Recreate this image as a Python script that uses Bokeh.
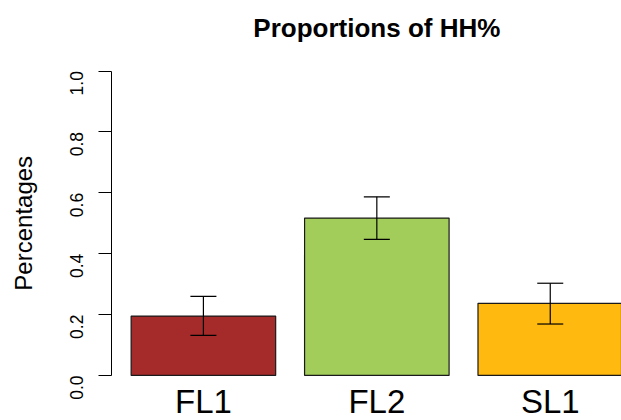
from bokeh.plotting import figure
from bokeh.models import (Range1d, FixedTicker, ColumnDataSource, Whisker,
                          TeeHead, LabelSet, Label)
from bokeh.core.properties import value
from bokeh.embed import file_html
from bokeh.resources import INLINE
import math

# data
categories = ["FL1", "FL2", "SL1"]
proportions = [0.195, 0.517, 0.237]
err_lower = [0.132, 0.447, 0.169]
err_upper = [0.260, 0.587, 0.303]
bar_colors = ["#A52A2A", "#A2CD5A", "#FFB90F"]
y_ticks = [0.0, 0.2, 0.4, 0.6, 0.8, 1.0]
y_tick_labels = ["0.0", "0.2", "0.4", "0.6", "0.8", "1.0"]
title_text = "Proportions of HH%"
y_title = "Percentages"

# R barplot positions: width 1, space 0.2
bar_x = [0.2 + 1.2 * i + 0.5 for i in range(len(categories))]

FONT = "Liberation Sans"
# R plot region (usr) and the whole device shown in the same data units
USR_X0, USR_X1 = 0.064, 3.736
X_START, X_END = -0.704, 3.593
Y_START, Y_END = -0.148, 1.232
NAME_Y = -0.122
TITLE_Y = 1.142
YLAB_X = -0.543

p = figure(width=621, height=420, output_backend="svg", toolbar_location=None,
           x_range=Range1d(X_START, X_END), y_range=Range1d(Y_START, Y_END),
           min_border_left=0, min_border_right=0, min_border_top=0,
           min_border_bottom=0)
p.outline_line_color = None
p.grid.visible = False
p.background_fill_color = "white"
p.border_fill_color = "white"

src = ColumnDataSource(dict(x=bar_x, top=proportions, lower=err_lower,
                            upper=err_upper, color=bar_colors,
                            name=categories,
                            label_y=[NAME_Y] * len(categories)))
p.vbar(x="x", top="top", bottom=0, width=1.0, fill_color="color",
       line_color="#1a1a1a", line_width=1.2, source=src)

w = Whisker(base="x", lower="lower", upper="upper", source=src,
            line_color="black", line_width=1.2, level="overlay",
            upper_head=TeeHead(size=26, line_color="black", line_width=1.2),
            lower_head=TeeHead(size=26, line_color="black", line_width=1.2))
p.add_layout(w)

# category names below the bars (as in R barplot)
names = LabelSet(x="x", y="label_y", text="name", source=src,
                 text_font=value(FONT), text_font_size=value("33px"),
                 text_color="black", text_align="center",
                 text_baseline="alphabetic")
p.add_layout(names)
p.xaxis.visible = False

# title centred over the plot region
p.add_layout(Label(x=(USR_X0 + USR_X1) / 2, y=TITLE_Y, text=title_text,
                   text_font=FONT, text_font_size="26px",
                   text_font_style="bold", text_color="black",
                   text_align="center", text_baseline="alphabetic"))

# y axis title
p.add_layout(Label(x=YLAB_X, y=0.5, text=y_title, angle=math.pi / 2,
                   text_font=FONT, text_font_size="24px", text_color="black",
                   text_align="center", text_baseline="middle"))

# y axis drawn at the left edge of the plot region
ya = p.yaxis[0]
ya.fixed_location = USR_X0
ya.bounds = (0, 1)
ya.ticker = FixedTicker(ticks=y_ticks)
ya.major_label_overrides = {t: l for t, l in zip(y_ticks, y_tick_labels)}
ya.major_label_orientation = math.pi / 2
ya.major_tick_out = 13
ya.major_tick_in = 0
ya.minor_tick_out = 0
ya.minor_tick_in = 0
ya.axis_line_color = "black"
ya.major_tick_line_color = "black"
ya.major_label_text_font = FONT
ya.major_label_text_font_size = "17.5px"
ya.major_label_text_color = "black"
ya.major_label_standoff = 22

open("out.html", "w").write(file_html(p, INLINE))
